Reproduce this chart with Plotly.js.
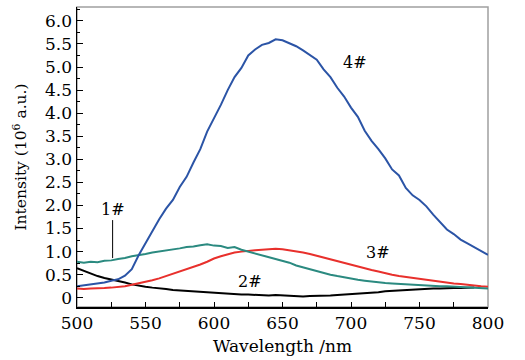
<!DOCTYPE html>
<html>
<head>
<meta charset="utf-8">
<script src="https://cdn.plot.ly/plotly-3.0.1.min.js"></script>
<style>html,body{margin:0;padding:0;background:#fff;}#chart{width:525px;height:360px;}</style>
</head>
<body>
<div id="chart"></div>
<script>
var wavelength = [500,505,510,515,520,525,530,535,540,545,550,555,560,565,570,575,580,585,590,595,600,605,610,615,620,625,630,635,640,645,650,655,660,665,670,675,680,685,690,695,700,705,710,715,720,725,730,735,740,745,750,755,760,765,770,775,780,785,790,795,800];
var s4 = [0.25,0.27,0.30,0.31,0.33,0.37,0.40,0.48,0.62,0.92,1.18,1.45,1.70,1.93,2.12,2.40,2.62,2.93,3.22,3.60,3.88,4.18,4.50,4.78,4.98,5.25,5.38,5.48,5.52,5.60,5.58,5.52,5.45,5.36,5.26,5.16,4.95,4.78,4.55,4.36,4.12,3.92,3.62,3.40,3.22,3.02,2.78,2.65,2.38,2.22,2.12,1.98,1.80,1.63,1.48,1.38,1.26,1.18,1.10,1.02,0.93];
var s1 = [0.78,0.76,0.78,0.77,0.80,0.81,0.84,0.86,0.90,0.92,0.95,0.98,1.00,1.03,1.05,1.07,1.10,1.11,1.14,1.16,1.13,1.12,1.08,1.10,1.04,1.00,0.96,0.93,0.88,0.84,0.80,0.76,0.70,0.66,0.62,0.57,0.53,0.50,0.47,0.44,0.41,0.39,0.37,0.35,0.33,0.32,0.31,0.30,0.29,0.28,0.27,0.27,0.26,0.25,0.25,0.24,0.24,0.23,0.22,0.21,0.20];
var s3 = [0.20,0.19,0.20,0.20,0.21,0.22,0.23,0.25,0.28,0.31,0.34,0.38,0.42,0.47,0.51,0.56,0.61,0.66,0.72,0.78,0.85,0.90,0.94,0.98,1.00,1.02,1.03,1.04,1.05,1.06,1.05,1.03,1.01,0.98,0.95,0.91,0.87,0.84,0.80,0.76,0.72,0.68,0.64,0.60,0.57,0.53,0.50,0.47,0.45,0.43,0.40,0.38,0.36,0.35,0.33,0.31,0.30,0.28,0.27,0.25,0.24];
var s2 = [0.64,0.58,0.53,0.47,0.43,0.40,0.36,0.33,0.29,0.26,0.24,0.22,0.21,0.19,0.17,0.16,0.15,0.14,0.12,0.11,0.10,0.09,0.09,0.08,0.07,0.07,0.06,0.05,0.05,0.06,0.05,0.04,0.04,0.03,0.04,0.04,0.05,0.05,0.06,0.07,0.07,0.09,0.10,0.11,0.12,0.14,0.15,0.16,0.17,0.18,0.18,0.19,0.20,0.20,0.21,0.21,0.21,0.21,0.22];
var yTickVals = [0,0.5,1,1.5,2,2.5,3,3.5,4,4.5,5,5.5,6];
var yTickText = ["0","0.5","1.0","1.5","2.0","2.5","3.0","3.5","4.0","4.5","5.0","5.5","6.0"];
var xTickVals = [500,550,600,650,700,750,800];
var labels = ["1#","2#","3#","4#"];

var font = "DejaVu Serif";
var traces = [
  {x: wavelength.slice(0, s2.length), y: s2, mode:'lines', line:{color:'#000000', width:2}, name:labels[1]},
  {x: wavelength, y: s3, mode:'lines', line:{color:'#e8302c', width:2}, name:labels[2]},
  {x: wavelength, y: s1, mode:'lines', line:{color:'#2b8a80', width:2}, name:labels[0]},
  {x: wavelength, y: s4, mode:'lines', line:{color:'#2b54a6', width:2}, name:labels[3]}
];
var layout = {
  width:525, height:360,
  margin:{l:77, r:37, t:7, b:53},
  paper_bgcolor:'#ffffff', plot_bgcolor:'#ffffff',
  showlegend:false,
  font:{family:font, size:17, color:'#000'},
  xaxis:{range:[500,800], tickvals:xTickVals, ticks:'inside', ticklen:5, tickcolor:'#000',
    showline:true, linecolor:'#000', linewidth:1.5, showgrid:false, zeroline:false,
    minor:{dtick:25, tick0:500, ticks:'inside', ticklen:5, tickcolor:'#000'},
    title:{text:'Wavelength /nm', font:{family:font, size:17}, standoff:8}},
  yaxis:{range:[-0.2,6.3], tickvals:yTickVals, ticktext:yTickText, ticks:'inside', ticklen:6, tickcolor:'#000',
    showline:true, linecolor:'#000', linewidth:1.5, showgrid:false, zeroline:false,
    minor:{dtick:0.25, tick0:0, ticks:'inside', ticklen:3, tickcolor:'#000'},
    title:{text:'Intensity (10<sup>6</sup> a.u.)', font:{family:font, size:15.5}, standoff:14}},
  shapes:[{type:'rect', xref:'paper', yref:'paper', x0:0, x1:1, y0:0, y1:1, line:{color:'#a0a0a0', width:1.5}, layer:'below'}],
  annotations:[
    {x:703, y:5.1, text:labels[3], showarrow:false, font:{family:font, size:16}},
    {x:720, y:0.98, text:labels[2], showarrow:false, font:{family:font, size:16}},
    {x:626, y:0.35, text:labels[1], showarrow:false, font:{family:font, size:16}},
    {x:526, y:0.86, text:labels[0], showarrow:true, arrowhead:0, arrowwidth:1, arrowcolor:'#000', ax:0, ay:-49, font:{family:font, size:16}}
  ]
};
Plotly.newPlot('chart', traces, layout, {staticPlot:true});
</script>
</body>
</html>
